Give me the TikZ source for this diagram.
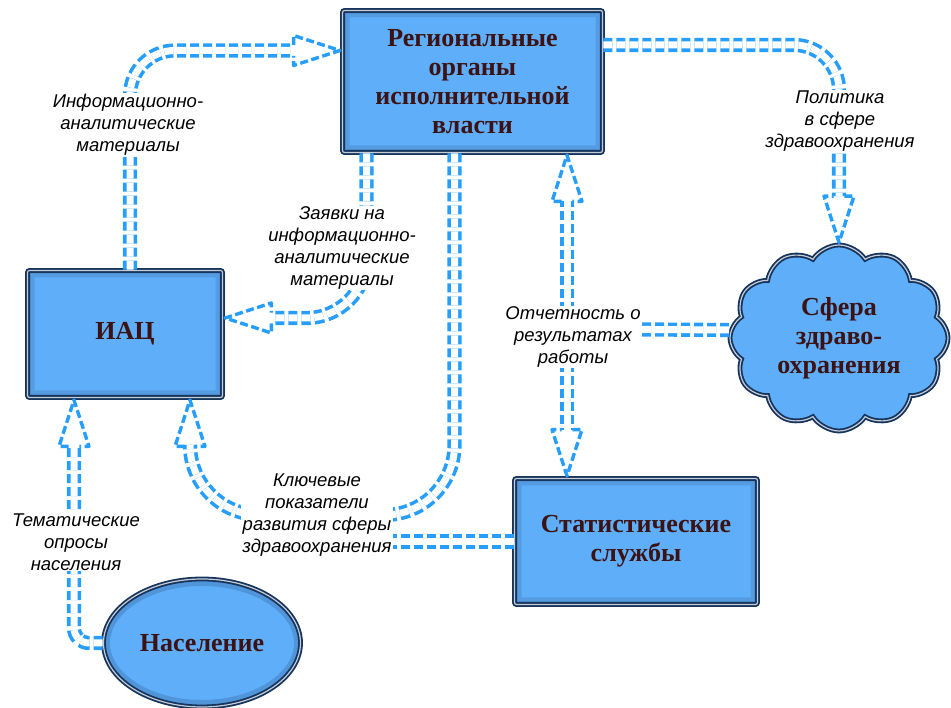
\documentclass[tikz,border=0pt]{standalone}
\usepackage{fontspec}
\setmainfont{Liberation Serif}
\newfontfamily\labelfont{Liberation Sans}
\usetikzlibrary{arrows.meta,shapes.symbols,shapes.geometric}
\definecolor{boxfill}{RGB}{95,174,250}
\definecolor{boxline}{RGB}{22,52,92}
\definecolor{boxtext}{RGB}{60,18,18}
\definecolor{flowblue}{RGB}{40,158,252}
\pgfdeclarearrow{
  name=HollowTip,
  parameters={\the\pgfarrowlength,\the\pgfarrowwidth},
  setup code={
    \pgfarrowssettipend{0pt}
    \pgfarrowssetlineend{-\pgfarrowlength}
    \pgfarrowssetbackend{-\pgfarrowlength}
    \pgfarrowssavethe\pgfarrowlength
    \pgfarrowssavethe\pgfarrowwidth
  },
  drawing code={
    \pgfsetlinewidth{3.4pt}
    \pgfsetdash{{8pt}{3.5pt}}{0pt}
    \pgfsetroundjoin
    \pgfpathmoveto{\pgfqpoint{-\pgfarrowlength}{5.3pt}}
    \pgfpathlineto{\pgfqpoint{-\pgfarrowlength}{.5\pgfarrowwidth}}
    \pgfpathlineto{\pgfqpoint{-1.7pt}{0pt}}
    \pgfpathlineto{\pgfqpoint{-\pgfarrowlength}{-.5\pgfarrowwidth}}
    \pgfpathlineto{\pgfqpoint{-\pgfarrowlength}{-5.3pt}}
    \pgfusepathqstroke
  },
  defaults={length=50pt, width=30pt}
}

\begin{document}
\begin{tikzpicture}[x=1pt,y=1pt,
  unit/.style={draw=boxline, line width=1.8pt, double=white!75!boxline, double distance=1.2pt,
    fill=boxfill, text=boxtext, align=center, inner sep=0pt,
    font=\bfseries\fontsize{26}{29}\selectfont},
  glow/.style={path picture={
    \draw[boxline, opacity=.15, line width=14pt]
      (path picture bounding box.south west) rectangle (path picture bounding box.north east);
    \draw[boxline, opacity=.25, line width=6pt]
      (path picture bounding box.south west) rectangle (path picture bounding box.north east);}},
  flow/.style={draw=flowblue, line width=3.6pt, double=white, double distance=7pt,
    dash pattern=on 9pt off 4pt},
  flowto/.style={flow, -{HollowTip[length=48pt, width=30pt]}},
  note/.style={font=\labelfont\itshape\fontsize{18.5}{22}\selectfont, align=center,
    fill=white, inner sep=1pt}]
  \useasboundingbox (0,0) rectangle (951,708);

  \node[unit, glow, rounded corners=2pt, minimum width=260, minimum height=142] (organs) at (472.5,626.5)
    {Региональные\\органы\\исполнительной\\власти};
  \node[unit, glow, rounded corners=2pt, minimum width=195, minimum height=127] (iac) at (125,374) {ИАЦ};
  \node[unit, glow, rounded corners=2pt, minimum width=243, minimum height=126] (stat) at (636,166.5)
    {Статистические\\службы};
  \node[unit, cloud, cloud puffs=12, cloud puff arc=115, aspect=1.2,
    minimum width=218, minimum height=186] (health) at (839,370) {Сфера\\здраво-\\охранения};
  \node[unit, ellipse, minimum width=197, minimum height=128,
    path picture={\draw[boxline, opacity=.2, line width=14pt] (path picture bounding box.center)
      ellipse [x radius=99, y radius=64];}] (people) at (202,65) {Население};

  \draw[flowto, rounded corners=45pt] ([xshift=5pt]iac.north) |- ([yshift=31pt]organs.west);
  \draw[flowto, rounded corners=60pt] ([xshift=-106pt]organs.south) |- ([yshift=16pt]iac.east);
  \draw[flowto, rounded corners=70pt] ([xshift=-18pt]organs.south) |- (317,193) -| ([xshift=65pt]iac.south);
  \draw[flow] (stat.west) -- (stat.west -| 317,193);
  \draw[flow] ([yshift=8pt]health.west) -- (567,379);
  \draw[flowto] (567,371) -- (567,371 |- organs.south);
  \draw[flowto] (567,371) -- (567,371 |- stat.north);
  \draw[flowto, rounded corners=45pt] ([yshift=36.5pt]organs.east) -| (health.north);
  \draw[flowto, rounded corners=15pt] (people.west) -| ([xshift=-51pt]iac.south);

  \node[note] (infolbl) at (128,583) {Информационно-\\аналитические\\материалы};
  \node[note] (reqlbl) at (342,460) {Заявки на\\информационно-\\аналитические\\материалы};
  \node[note] (keylbl) at (317,193) {Ключевые\\показатели\\развития сферы\\здравоохранения};
  \node[note] (replbl) at (573,371) {Отчетность о\\результатах\\работы};
  \node[note] (pollbl) at (840,587) {Политика\\в сфере\\здравоохранения};
  \node[note] (surveylbl) at (76,166) {Тематические\\опросы\\населения};
\end{tikzpicture}
\end{document}
